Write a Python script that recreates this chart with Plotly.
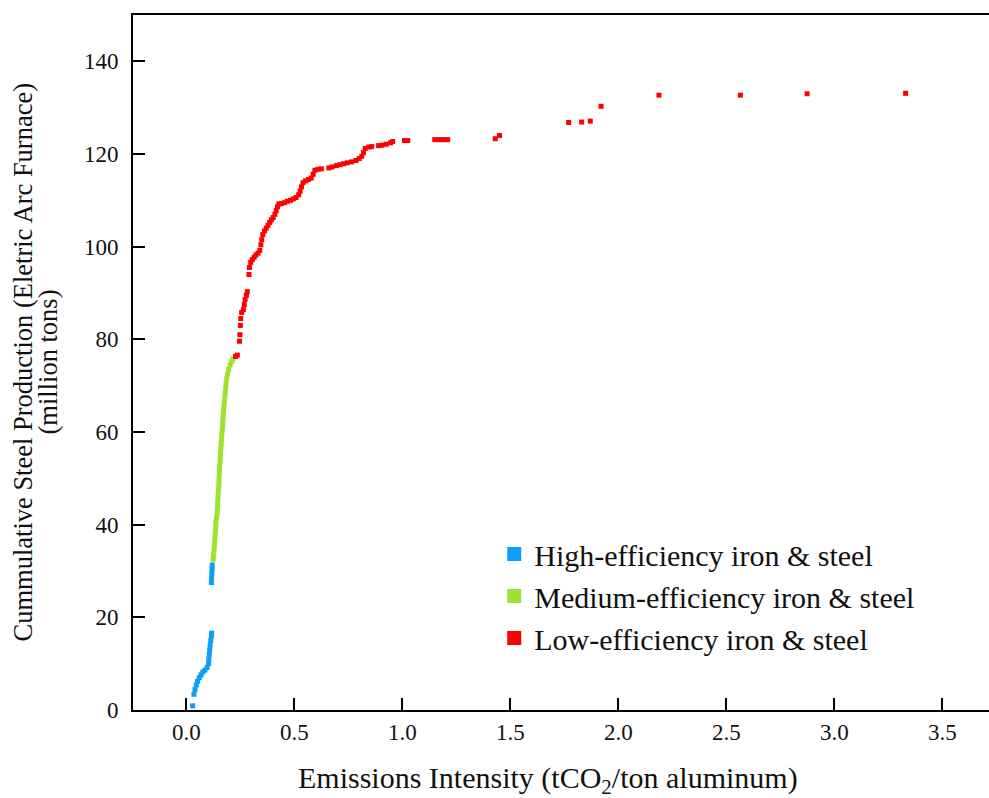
import plotly.graph_objects as go

# ---- data ----
high_x = [0.029, 0.035, 0.040, 0.046, 0.052, 0.060, 0.068, 0.076, 0.086, 0.096,
          0.103, 0.104, 0.106, 0.108, 0.110, 0.113, 0.116, 0.117,
          0.116, 0.117, 0.118, 0.119, 0.120]
high_y = [0.9, 3.4, 4.4, 5.4, 6.2, 7.0, 7.6, 8.2, 8.6, 9.2,
          10.0, 11.0, 12.0, 13.0, 14.0, 15.0, 16.0, 16.6,
          27.5, 28.5, 29.5, 30.5, 31.3]

med_x = [0.124, 0.126, 0.128, 0.130, 0.131, 0.133, 0.134, 0.136, 0.137, 0.140,
         0.143, 0.144, 0.145, 0.146, 0.147, 0.149, 0.150, 0.151, 0.152, 0.153,
         0.154, 0.156, 0.157, 0.158, 0.160, 0.161, 0.163, 0.164, 0.166, 0.168,
         0.169, 0.171, 0.172, 0.174, 0.176, 0.178, 0.180, 0.182, 0.184, 0.187,
         0.191, 0.196, 0.203, 0.210, 0.216]
med_y = [32.5, 33.5, 34.5, 35.5, 36.5, 37.5, 38.5, 39.5, 40.5, 41.5,
         42.5, 43.5, 44.5, 45.5, 46.5, 47.5, 48.5, 49.5, 50.5, 51.5,
         52.5, 53.5, 54.5, 55.5, 56.5, 57.5, 58.5, 59.5, 60.5, 61.5,
         62.5, 63.5, 64.5, 65.5, 66.5, 67.5, 68.5, 69.5, 70.5, 71.5,
         72.5, 73.5, 74.5, 75.2, 75.8]

low_x = [0.228, 0.236, 0.246, 0.248, 0.250, 0.252, 0.256, 0.264, 0.268, 0.272,
         0.278, 0.282, 0.290, 0.292, 0.298, 0.305, 0.314, 0.322, 0.332, 0.340,
         0.345, 0.349, 0.354, 0.362, 0.370, 0.378, 0.386, 0.394, 0.402, 0.410,
         0.416, 0.422, 0.428, 0.440, 0.455, 0.468, 0.482, 0.495, 0.508, 0.520,
         0.527, 0.533, 0.540, 0.552, 0.565, 0.578, 0.587, 0.595, 0.610, 0.625,
         0.660, 0.675, 0.695, 0.712, 0.728, 0.745, 0.765, 0.785, 0.800, 0.812,
         0.820, 0.828, 0.845, 0.858, 0.890, 0.905, 0.925, 0.945, 0.955, 1.010,
         1.025, 1.150, 1.165, 1.180, 1.195, 1.210, 1.430, 1.450, 1.770, 1.830,
         1.870, 1.920, 2.188, 2.565, 2.874, 3.330]
low_y = [76.3, 76.6, 79.6, 81.0, 83.0, 84.5, 85.8, 86.4, 87.5, 88.6,
         89.5, 90.3, 94.0, 95.5, 96.6, 97.2, 97.7, 98.2, 98.6, 99.2,
         100.4, 101.5, 102.6, 103.4, 104.0, 104.6, 105.2, 105.8, 106.3, 107.0,
         107.8, 108.6, 109.2, 109.3, 109.5, 109.8, 110.0, 110.3, 110.6, 111.2,
         112.0, 112.9, 113.8, 114.2, 114.5, 114.8, 115.6, 116.5, 116.7, 116.8,
         117.0, 117.2, 117.5, 117.7, 117.9, 118.1, 118.3, 118.6, 119.0, 119.5,
         120.3, 121.2, 121.5, 121.6, 121.8, 121.9, 122.1, 122.4, 122.7, 122.9,
         122.9, 123.1, 123.1, 123.1, 123.1, 123.1, 123.3, 124.0, 126.8, 126.9,
         127.1, 130.3, 132.7, 132.7, 133.0, 133.1]

series_names = ["High-efficiency iron &amp; steel",
                "Medium-efficiency iron &amp; steel",
                "Low-efficiency iron &amp; steel"]
series_colors = ["#0E9EF7", "#9CE22E", "#FF0000"]

x_ticks = [0.0, 0.5, 1.0, 1.5, 2.0, 2.5, 3.0, 3.5]
y_ticks = [0, 20, 40, 60, 80, 100, 120, 140]

x_title = "Emissions Intensity (tCO<sub>2</sub>/ton aluminum)"
y_title_1 = "Cummulative Steel Production (Eletric Arc Furnace)"
y_title_2 = "(million tons)"

FONT = "Liberation Serif, Times New Roman, serif"

fig = go.Figure()
for xs, ys, col in zip([high_x, med_x, low_x], [high_y, med_y, low_y], series_colors):
    fig.add_trace(go.Scatter(x=xs, y=ys, mode="markers", showlegend=False,
                             marker=dict(symbol="square", size=5, color=col,
                                         line=dict(width=0))))
for i, (name, col) in enumerate(zip(series_names, series_colors)):
    fig.add_trace(go.Scatter(x=[None], y=[None], mode="markers", name=name,
                             legendgroup=str(i),
                             marker=dict(symbol="square", size=14, color=col,
                                         line=dict(width=0))))

fig.update_layout(
    width=989, height=798,
    margin=dict(l=133, r=0, t=15, b=88),
    paper_bgcolor="white", plot_bgcolor="white",
    font=dict(family=FONT, color="#111111"),
    showlegend=True,
    legend=dict(x=0.422, y=0.262, xanchor="left", yanchor="top",
                font=dict(family=FONT, size=30, color="#111111"),
                bgcolor="rgba(0,0,0,0)", tracegroupgap=0,
                traceorder="grouped", itemwidth=30),
    xaxis=dict(range=[-0.247, 3.716], tickvals=x_ticks,
               ticktext=[f"{v:.1f}" for v in x_ticks],
               ticks="inside", ticklen=12, tickwidth=2, tickcolor="black",
               showline=True, linecolor="black", linewidth=2, mirror=True,
               showgrid=False, zeroline=False,
               tickfont=dict(family=FONT, size=23, color="#111111")),
    yaxis=dict(range=[0, 150], tickvals=y_ticks,
               ticks="inside", ticklen=12, tickwidth=2, tickcolor="black",
               showline=True, linecolor="black", linewidth=2, mirror=False,
               showgrid=False, zeroline=False, ticklabelstandoff=8,
               tickfont=dict(family=FONT, size=23, color="#111111")),
    annotations=[
        dict(text=x_title,
             xref="paper", yref="paper", x=0.485, y=0, yshift=-70,
             xanchor="center", yanchor="middle", showarrow=False,
             font=dict(family=FONT, size=30, color="#111111")),
        dict(text=y_title_1,
             xref="paper", yref="paper", x=0, y=0.5, xshift=-111,
             xanchor="center", yanchor="middle", showarrow=False, textangle=-90,
             font=dict(family=FONT, size=26.5, color="#111111")),
        dict(text=y_title_2,
             xref="paper", yref="paper", x=0, y=0.5, xshift=-86,
             xanchor="center", yanchor="middle", showarrow=False, textangle=-90,
             font=dict(family=FONT, size=26.5, color="#111111")),
    ],
)

fig.write_html("out.html")
